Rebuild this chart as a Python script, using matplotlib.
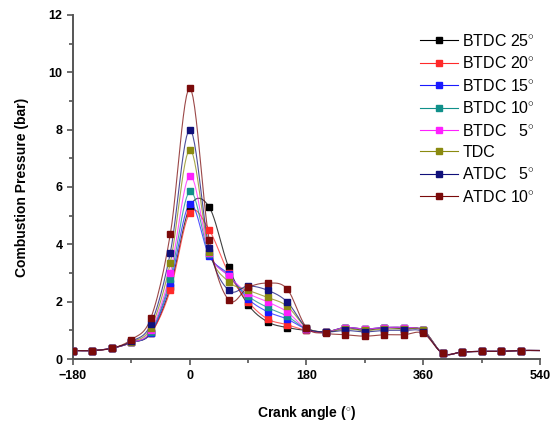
import numpy as np
import matplotlib
matplotlib.use("Agg")
import matplotlib.pyplot as plt
from matplotlib.lines import Line2D
from matplotlib.ticker import MultipleLocator

plt.rcParams["font.family"] = ["Liberation Sans", "DejaVu Sans"]
plt.rcParams["mathtext.fontset"] = "custom"
plt.rcParams["mathtext.rm"] = "Liberation Sans"

# crank angle (deg) of each measurement
angles = [-180, -150, -120, -90, -60, -30, 0, 30, 60, 90, 120, 150, 180,
          210, 240, 270, 300, 330, 360, 390, 420, 450, 480, 510, 540]

labels = ["BTDC 25$^{\\circ}$", "BTDC 20$^{\\circ}$", "BTDC 15$^{\\circ}$",
          "BTDC 10$^{\\circ}$", "BTDC   5$^{\\circ}$", "TDC",
          "ATDC   5$^{\\circ}$", "ATDC 10$^{\\circ}$"]
colors = ["#000000", "#ff2a2a", "#1a1aff", "#10908a", "#ff20ff", "#8a8a10",
          "#10107a", "#7a0a0a"]

# combustion pressure (bar), one list per injection timing
btdc25 = [0.3, 0.3, 0.38, 0.58, 0.9, 2.5, 5.3, 5.3, 3.2, 1.9, 1.3, 1.1, 1.0,
          0.95, 1.1, 1.0, 1.1, 1.05, 1.0, 0.2, 0.25, 0.27, 0.27, 0.3, 0.3]
btdc20 = [0.3, 0.3, 0.38, 0.58, 0.9, 2.4, 5.1, 4.5, 3.0, 2.0, 1.4, 1.2, 1.0,
          0.95, 1.1, 1.05, 1.1, 1.1, 1.0, 0.2, 0.25, 0.27, 0.27, 0.3, 0.3]
btdc15 = [0.3, 0.3, 0.38, 0.58, 0.92, 2.65, 5.4, 3.6, 2.95, 2.1, 1.65, 1.4, 1.05,
          0.95, 1.1, 1.05, 1.1, 1.1, 1.0, 0.2, 0.25, 0.27, 0.27, 0.3, 0.3]
btdc10 = [0.3, 0.3, 0.38, 0.58, 0.95, 2.8, 5.85, 3.65, 2.9, 2.2, 1.8, 1.5, 1.05,
          0.95, 1.1, 1.05, 1.1, 1.1, 1.0, 0.2, 0.25, 0.27, 0.27, 0.3, 0.3]
btdc5 = [0.3, 0.3, 0.38, 0.58, 1.0, 3.0, 6.4, 3.7, 2.9, 2.3, 2.0, 1.65, 1.05,
         0.95, 1.1, 1.05, 1.1, 1.1, 1.0, 0.2, 0.25, 0.27, 0.27, 0.3, 0.3]
tdc = [0.3, 0.3, 0.38, 0.6, 1.1, 3.35, 7.3, 3.75, 2.7, 2.4, 2.15, 1.85, 1.1,
       0.95, 1.05, 1.0, 1.05, 1.05, 1.0, 0.2, 0.25, 0.27, 0.27, 0.3, 0.3]
atdc5 = [0.3, 0.3, 0.38, 0.62, 1.22, 3.7, 8.0, 3.87, 2.4, 2.55, 2.4, 2.0, 1.1,
         0.95, 1.0, 0.95, 1.0, 1.0, 0.95, 0.2, 0.25, 0.27, 0.27, 0.3, 0.3]
atdc10 = [0.3, 0.3, 0.38, 0.68, 1.43, 4.35, 9.45, 4.15, 2.06, 2.5, 2.65, 2.45, 1.1,
          0.9, 0.85, 0.8, 0.85, 0.85, 0.9, 0.2, 0.25, 0.27, 0.27, 0.3, 0.3]

series = [btdc25, btdc20, btdc15, btdc10, btdc5, tdc, atdc5, atdc10]


def smooth(x, y, n=12):
    """Catmull-Rom curve through the points, for the connecting line"""
    x = np.asarray(x, float)
    y = np.asarray(y, float)
    xp = np.concatenate([[2 * x[0] - x[1]], x, [2 * x[-1] - x[-2]]])
    yp = np.concatenate([[y[0]], y, [y[-1]]])
    t = np.linspace(0, 1, n, endpoint=False)
    xs, ys = [], []
    for i in range(1, len(xp) - 2):
        p0, p1, p2, p3 = yp[i - 1:i + 3]
        m1 = (p2 - p0) / 2
        m2 = (p3 - p1) / 2
        h00 = 2 * t**3 - 3 * t**2 + 1
        h10 = t**3 - 2 * t**2 + t
        h01 = -2 * t**3 + 3 * t**2
        h11 = t**3 - t**2
        ys.append(h00 * p1 + h10 * m1 + h01 * p2 + h11 * m2)
        xs.append(xp[i] + t * (xp[i + 1] - xp[i]))
    xs.append([x[-1]])
    ys.append([y[-1]])
    return np.concatenate(xs), np.concatenate(ys)


fig = plt.figure(figsize=(5.55, 4.24), dpi=100)
ax = fig.add_axes([0.1315, 0.153, 0.8415, 0.812])

for vals, color in zip(series, colors):
    sx, sy = smooth(angles, vals)
    ax.plot(sx, sy, color=color, lw=0.8, alpha=0.75, zorder=2)
    # the last point sits on the right edge and carries no marker
    ax.plot(angles[:-1], vals[:-1], ls="none", marker="s", ms=4.0,
            color=color, zorder=3)

ax.set_xlim(-180, 540)
ax.set_ylim(0, 12)
ax.xaxis.set_major_locator(MultipleLocator(180))
ax.xaxis.set_minor_locator(MultipleLocator(90))
ax.yaxis.set_major_locator(MultipleLocator(2))
ax.yaxis.set_minor_locator(MultipleLocator(1))
ax.tick_params(which="both", direction="out", color="#555555", width=1.2,
               labelsize=9)
ax.tick_params(which="major", length=4)
ax.tick_params(which="minor", length=3)
for lbl in ax.get_xticklabels() + ax.get_yticklabels():
    lbl.set_fontweight("bold")
for side in ("top", "right"):
    ax.spines[side].set_visible(False)
for side in ("left", "bottom"):
    ax.spines[side].set_color("#555555")
    ax.spines[side].set_linewidth(1.4)

ax.set_xlabel("Crank angle ($^{\\circ}$)", fontsize=10, fontweight="bold",
              labelpad=16)
ax.set_ylabel("Combustion Pressure (bar)", fontsize=10, fontweight="bold",
              labelpad=14)

handles = [Line2D([], [], color=c, lw=0.8, marker="s", ms=4.0) for c in colors]
ax.legend(handles, labels, loc="upper right", bbox_to_anchor=(1.01, 0.975),
          frameon=False, fontsize=11.5, handlelength=2.4, handletextpad=0.25,
          labelspacing=0.4, borderaxespad=0.2)

fig.savefig("out.png", dpi=100)
plt.close(fig)
